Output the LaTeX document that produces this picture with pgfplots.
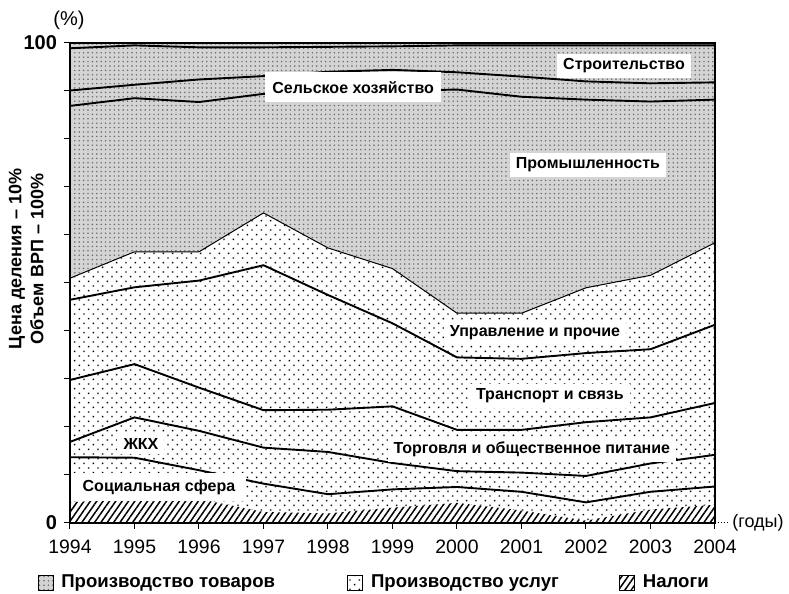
\documentclass[border=0pt]{standalone}
\usepackage{fontspec}
\setmainfont{Liberation Sans}
\usepackage{pgfplots}
\pgfplotsset{compat=1.18}
\usepackage{pgfplotstable}
\usetikzlibrary{patterns.meta}

\pgfplotstableread{
year Top C Ag Ind S Trans Tr Zh Soc T
1994 100 98.9 90.1 86.9 51.0 46.5 29.8 16.9 13.7 4.3
1995 100 99.5 91.3 88.5 56.5 49.1 33.1 22.0 13.6 5.1
1996 100 99.1 92.4 87.7 56.5 50.5 28.2 19.2 11.0 5.0
1997 100 99.1 93.1 89.4 64.6 53.7 23.5 15.7 8.2 2.3
1998 100 99.2 94.0 89.7 57.3 47.5 23.6 14.8 6.0 2.0
1999 100 99.3 94.4 90.0 53.0 41.6 24.3 12.5 7.0 3.2
2000 100 99.5 93.9 90.3 43.7 34.5 19.4 10.8 7.5 4.2
2001 100 99.5 93.0 88.8 43.7 34.2 19.4 10.5 6.5 2.6
2002 100 99.5 92.0 88.2 49.0 35.4 21.0 9.8 4.3 0.5
2003 100 99.5 91.6 87.8 51.6 36.2 22.0 12.4 6.5 2.8
2004 100 99.5 91.8 88.2 58.4 41.3 25.0 14.2 7.6 3.8
}\vrp

\tikzset{
  goods/.style={fill=black!17, postaction={pattern={Dots[distance=2.2pt,radius=0.42pt]}, pattern color=black!60}},
  services/.style={fill=white, postaction={pattern={Dots[distance=3.3pt,angle=45,radius=0.5pt]}, pattern color=black}},
  taxes/.style={fill=white, postaction={pattern={Lines[angle=55,distance=2.6pt,line width=0.75pt]}, pattern color=black}},
  lbl/.style={fill=white, inner xsep=3pt, inner ysep=2.5pt, font=\fontsize{8}{9}\selectfont\bfseries},
  bnd/.style={black, line width=0.95pt},
}

\begin{document}
\begin{tikzpicture}
\useasboundingbox (-35pt,-35.5pt) rectangle (359.5pt,261.5pt);
\begin{axis}[
  scale only axis, width=322.5pt, height=240pt,
  xmin=1994, xmax=2004, ymin=0, ymax=100,
  axis on top,
  tick pos=left, tick align=outside,
  major tick length=3pt,
  every tick/.style={black, line width=0.5pt},
  axis line style={line width=0.6pt},
  xtick={1994,1995,1996,1997,1998,1999,2000,2001,2002,2003,2004},
  xticklabels={1994,1995,1996,1997,1998,1999,2000,2001,2002,2003,2004},
  ytick={0,10,20,30,40,50,60,70,80,90,100},
  yticklabels={0,{},{},{},{},{},{},{},{},{},100},
  x tick label style={font=\fontsize{9.7}{11}\selectfont, yshift=-2pt},
  y tick label style={font=\fontsize{10}{12}\selectfont\bfseries},
  ylabel={Цена деления – 10\%\\Объем ВРП – 100\%},
  ylabel style={at={(axis description cs:-0.068,0.55)}, anchor=center, align=center, font=\fontsize{9}{11}\selectfont\bfseries},
  legend columns=3,
  legend style={at={(axis description cs:-0.051,-0.125)}, anchor=west, draw=none, fill=none,
    font=\fontsize{9.3}{11}\selectfont\bfseries, inner sep=0pt, column sep=0pt,
    /tikz/every odd column/.append style={column sep=2pt}},
  legend image code/.code={\draw[#1, draw=black, line width=0.4pt] (0pt,-3.75pt) rectangle (7.5pt,3.75pt);},
]
% areas
\addplot[draw=none, goods, forget plot] table[x=year,y=Top]{\vrp} \closedcycle;
\addplot[draw=none, services, forget plot] table[x=year,y=S]{\vrp} \closedcycle;
\addplot[draw=none, taxes, forget plot] table[x=year,y=T]{\vrp} \closedcycle;
% boundaries
\addplot[bnd, forget plot] table[x=year,y=C]{\vrp};
\addplot[bnd, forget plot] table[x=year,y=Ag]{\vrp};
\addplot[bnd, forget plot] table[x=year,y=Ind]{\vrp};
\addplot[black, line width=0.5pt, forget plot] table[x=year,y=S]{\vrp};
\addplot[bnd, forget plot] table[x=year,y=Trans]{\vrp};
\addplot[bnd, forget plot] table[x=year,y=Tr]{\vrp};
\addplot[bnd, forget plot] table[x=year,y=Zh]{\vrp};
\addplot[bnd, forget plot] table[x=year,y=Soc]{\vrp};
% legend
\addlegendimage{goods}
\addlegendentry{\makebox[141pt][l]{Производство товаров}}
\addlegendimage{services}
\addlegendentry{\makebox[122pt][l]{Производство услуг}}
\addlegendimage{taxes}
\addlegendentry{Налоги}
% labels
\node[lbl] at (axis cs:2002.59,95.2) {Строительство};
\node[lbl, inner xsep=3.5pt, inner ysep=4.5pt] at (axis cs:1998.39,90.8) {Сельское хозяйство};
\node[lbl] at (axis cs:2002.03,74.6) {Промышленность};
\node[lbl] at (axis cs:2001.21,39.6) {Управление и прочие};
\node[lbl] at (axis cs:2001.44,26.5) {Транспорт и связь};
\node[lbl] at (axis cs:2001.16,15.4) {Торговля и общественное питание};
\node[lbl] at (axis cs:1995.10,16.5) {ЖКХ};
\node[lbl, anchor=west, inner xsep=5.5pt, inner ysep=3.5pt] at (axis cs:1994.02,7.5) {Социальная сфера};
\end{axis}
\draw[densely dotted, line width=0.5pt] (322.5pt,0) -- (330pt,0);
\node[font=\fontsize{9}{11}\selectfont, anchor=west, inner sep=0pt] at (331pt,0) {(годы)};
\node[font=\fontsize{10}{12}\selectfont] at (-0.5pt,251.5pt) {(\%)};
\end{tikzpicture}
\end{document}
